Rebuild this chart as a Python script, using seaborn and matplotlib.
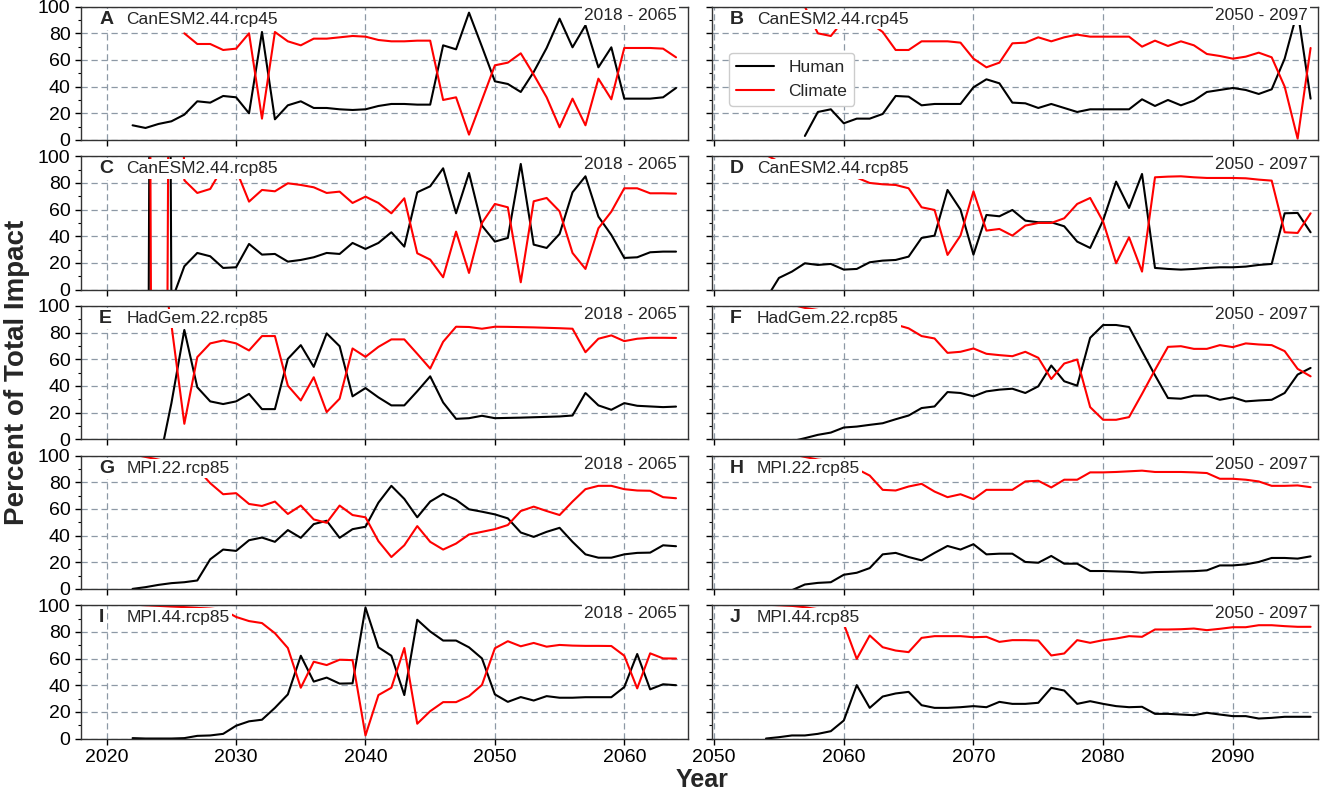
import numpy as np
import pandas as pd
import matplotlib.pyplot as plt
import seaborn as sns
from matplotlib.ticker import MultipleLocator

# Percent of total impact, one value per year; each series starts at its own year
a_human_start = 2022
a_human = [11, 9, 12, 14, 19, 29, 28, 33, 32, 20, 81, 15.5, 26, 29, 24, 24, 23, 22.5, 23, 25.5,
           27, 27, 26.5, 26.5, 71, 68, 95.5, 70, 44, 42, 36, 51, 69, 91, 69.5, 86, 54.5, 69.5, 31, 31,
           31, 32, 39]
a_climate_start = 2026
a_climate = [80, 72, 72, 67.5, 68.5, 80, 16, 81, 74, 71, 76, 76, 77, 78, 77.5, 75, 74, 74, 74.5, 74.5,
             30, 32, 4, 30, 56, 58, 65, 49, 32, 9.5, 31, 11, 46, 30.5, 69, 69, 69, 68.5, 62]

b_human_start = 2057
b_human = [3, 21, 23, 12.5, 16, 16, 19.5, 33, 32.5, 26, 27, 27, 27, 39.5, 45.5, 42.5, 28, 27.5, 24, 27,
           24, 21, 23, 23, 23, 23, 30.5, 25.5, 30, 26, 29.5, 36, 37.5, 39, 37.5, 34.5, 38, 61, 97, 31]
b_climate_start = 2057
b_climate = [100, 80, 78, 90, 92, 88, 81, 67.5, 67.5, 74, 74, 74, 73, 61, 54.5, 58, 72.5, 73, 77, 74,
             77, 79, 77.5, 77.5, 77.5, 77.5, 70, 74.5, 70.5, 74, 71, 64.5, 63, 61, 62.5, 65.5, 62, 40, 1, 69]

c_human_start = 2023
c_human = [-600, 1800, -9, 17.5, 27.5, 25, 16.25, 16.75, 34.25, 26.25, 26.75, 21, 22.25, 24.25, 27.5,
           26.75, 35, 30.5, 35, 43, 32.25, 73, 77.5, 91, 57.25, 87.5, 48, 36, 38.75, 94.25, 33.75, 31.25,
           41.75, 73, 85, 54.75, 41, 23.75, 24.25, 28, 28.5, 28.5]
c_climate_start = 2023
c_climate = [1000, -1400, 600, 82, 72.5, 75.5, 92, 90, 66, 74.75, 73.75, 79.75, 78.5, 76.75, 72.5, 73.5,
             65, 69.75, 65, 57.25, 68.5, 27.25, 22.5, 9.25, 43.5, 12.5, 50, 64.25, 61.75, 5.5, 66.25,
             68.75, 58.75, 27.5, 15.5, 46, 58.5, 76, 76, 72.25, 72.25, 72]

d_human_start = 2054
d_human = [-7, 8.75, 13.5, 19.75, 18.5, 19.25, 15, 15.5, 20.5, 21.75, 22.25, 24.75, 38.75, 40.5, 74.75,
           60, 26.25, 56, 55, 59.75, 51.75, 50.5, 50.5, 47.5, 36, 31.25, 52, 81, 61.25, 86.75, 16.25,
           15.5, 15, 15.5, 16.25, 16.75, 16.75, 17.25, 18.5, 19.25, 57.25, 57.5, 43]
d_climate_start = 2054
d_climate = [101, 96, 95, 93, 91, 89, 87, 84, 80, 79, 78.5, 76, 61.75, 59.75, 26, 40.5, 73.75, 44.25,
             45.5, 40.5, 48, 50, 50, 53.5, 64.25, 68.75, 51, 19.75, 39.25, 13.5, 84.25, 84.75, 85, 84.25,
             83.75, 83.75, 83.75, 83.5, 82.5, 81.75, 43, 42.5, 57.25]

e_human_start = 2024
e_human = [-20, 27, 82, 39, 28.4, 26.4, 28.4, 34, 22.6, 22.6, 60.3, 70.6, 54.3, 79.4, 69.8, 32.2, 38.4,
           31.4, 25.4, 25.4, 36, 47.2, 27.6, 15.3, 15.8, 17.6, 15.8, 16, 16.2, 16.5, 16.8, 17.1, 17.8,
           34.7, 25.4, 22.1, 27.1, 25.1, 24.6, 24.1, 24.5]
e_climate_start = 2024
e_climate = [150, 86, 11.6, 61.6, 71.9, 74.1, 71.9, 66.6, 77.4, 77.4, 40.2, 29.1, 46.5, 20.4, 30.4, 68.1,
             61.8, 69.3, 74.9, 74.9, 64.1, 53, 73.1, 84.4, 84.2, 82.9, 84.4, 84.3, 84.1, 83.9, 83.6, 83.3,
             82.9, 65.3, 75.4, 77.9, 73.6, 75.4, 76.1, 76.1, 76]

f_human_start = 2056
f_human = [-1.5, 0.8, 3.3, 5, 8.8, 9.5, 10.8, 12, 15, 17.8, 23.4, 24.6, 35.4, 34.7, 32.2, 35.9, 37.2,
           37.9, 34.7, 39.7, 55.3, 43.5, 40.2, 76.1, 85.7, 85.7, 84.2, 66, 48, 30.9, 30.4, 32.7, 32.7,
           29.6, 31.4, 28.4, 29.1, 29.6, 34.7, 48.5, 53.5]
f_climate_start = 2056
f_climate = [101, 98.5, 97, 95, 93, 92, 90.5, 88.5, 86, 83.2, 77.4, 75.6, 64.8, 65.6, 68.1, 64.1, 63.1,
             62.3, 65.6, 61.1, 45.2, 56.8, 59.8, 24.1, 14.6, 14.6, 16.6, 34, 52, 69.3, 69.8, 67.8, 67.8,
             70.6, 69.1, 71.9, 71.1, 70.6, 66.1, 52.8, 47.2]

g_human_start = 2022
g_human = [0, 1.3, 3, 4.3, 5, 6.3, 22.2, 29.5, 28.5, 36.5, 38.5, 35.3, 44.1, 38.3, 48.6, 51.1, 38.3,
           44.8, 46.6, 64.7, 77.3, 67.5, 53.7, 65.5, 71.3, 66.8, 59.7, 57.9, 55.9, 52.9, 42.3, 39, 42.8,
           45.8, 35.3, 25.9, 23.4, 23.4, 25.9, 27, 27.2, 32.7, 32]
g_climate_start = 2022
g_climate = [101, 99, 97, 95, 93, 90, 79.3, 71, 71.8, 63.7, 62.2, 65.5, 56.2, 62.5, 52.1, 49.6, 62.5,
             55.4, 53.7, 35.8, 23.9, 32.7, 47.1, 35.3, 29.5, 34, 40.8, 42.8, 44.8, 47.9, 58.4, 61.7, 58.4,
             55.4, 65.5, 74.8, 77.3, 77.3, 74.8, 73.8, 73.6, 68.8, 68]

h_human_start = 2056
h_human = [-1, 3.3, 4.5, 5, 10.6, 12.1, 15.6, 25.9, 27, 23.9, 21.4, 27, 32.2, 29.5, 33.5, 25.9, 26.4,
           26.4, 20.2, 19.6, 24.7, 18.9, 18.9, 13.4, 13.4, 13.1, 12.8, 12.1, 12.6, 12.8, 13.1, 13.3, 13.9,
           17.6, 17.6, 18.4, 20.2, 23.2, 23.2, 22.7, 24.4]
h_climate_start = 2056
h_climate = [101, 99, 97, 96, 93, 90, 85, 74.3, 73.8, 76.8, 78.8, 73, 68.8, 71, 67.3, 74.3, 74.3, 74.3,
             80.6, 81.1, 76.1, 81.9, 81.9, 87.4, 87.4, 87.7, 88.2, 88.7, 87.7, 87.7, 87.7, 87.4, 86.9,
             82.6, 82.6, 81.9, 80.6, 77.3, 77.3, 77.6, 76.3]

i_human_start = 2022
i_human = [0.3, 0, 0, 0, 0.3, 2, 2.3, 3.5, 9.6, 12.9, 14.1, 23, 33.1, 62.1, 42.7, 45.7, 41.2, 41.4, 98.2,
           68.4, 62.1, 32.6, 89.1, 80.3, 73.5, 73.5, 68.4, 60.1, 33.1, 27.5, 31.1, 28.5, 31.8, 30.6,
           30.6, 31, 31, 31, 38.6, 63.4, 36.9, 40.7, 40]
i_climate_start = 2022
i_climate = [100.5, 100, 99.5, 99, 98.6, 98, 97.5, 96.5, 91.2, 88.1, 86.6, 79, 67.9, 38.1, 57.6, 55.1,
             59.1, 58.8, 2.3, 32.6, 38.1, 67.9, 11.1, 20.5, 27.3, 27.3, 31.8, 40.2, 67.7, 73, 69.2, 71.7,
             68.9, 70.2, 69.7, 69.5, 69.5, 69.4, 62.1, 37.6, 63.9, 60.1, 60]

j_human_start = 2054
j_human = [0, 1, 2.3, 2.3, 3.5, 5.5, 13.5, 40, 23, 31.5, 33.8, 35, 25, 23, 23, 23.5, 24.3, 23.5, 27.5,
           26, 26, 26.8, 38, 36, 26, 28, 26, 24.3, 23.5, 23.8, 18.5, 18.5, 18, 17.5, 19.3, 18, 16.8,
           16.8, 15, 15.5, 16.3, 16.3, 16.3]
j_climate_start = 2054
j_climate = [100.5, 100, 99.5, 98.5, 97, 94, 86, 59.75, 77.3, 68.5, 66, 64.8, 75.5, 76.8, 76.8, 76.8, 76,
             76.3, 72.5, 73.8, 73.8, 73.5, 62.3, 63.8, 73.8, 71.8, 73.8, 75, 76.8, 76.3, 81.8, 81.8, 82,
             82.5, 81.3, 82.3, 83.5, 83.5, 85, 85, 84.3, 83.8, 83.8]

panels = [
    ('A', 'CanESM2.44.rcp45', a_human_start, a_human, a_climate_start, a_climate),
    ('B', 'CanESM2.44.rcp45', b_human_start, b_human, b_climate_start, b_climate),
    ('C', 'CanESM2.44.rcp85', c_human_start, c_human, c_climate_start, c_climate),
    ('D', 'CanESM2.44.rcp85', d_human_start, d_human, d_climate_start, d_climate),
    ('E', 'HadGem.22.rcp85', e_human_start, e_human, e_climate_start, e_climate),
    ('F', 'HadGem.22.rcp85', f_human_start, f_human, f_climate_start, f_climate),
    ('G', 'MPI.22.rcp85', g_human_start, g_human, g_climate_start, g_climate),
    ('H', 'MPI.22.rcp85', h_human_start, h_human, h_climate_start, h_climate),
    ('I', 'MPI.44.rcp85', i_human_start, i_human, i_climate_start, i_climate),
    ('J', 'MPI.44.rcp85', j_human_start, j_human, j_climate_start, j_climate),
]
periods = ['2018 - 2065', '2050 - 2097']
col_xlim = [(2018, 2064.9), (2049.8, 2096.6)]
col_xticks = [[2020, 2030, 2040, 2050, 2060], [2050, 2060, 2070, 2080, 2090]]


def to_frame(h_start, human, c_start, climate):
    h = pd.DataFrame({'Year': np.arange(h_start, h_start + len(human)),
                      'Percent': human, 'Series': 'Human'})
    c = pd.DataFrame({'Year': np.arange(c_start, c_start + len(climate)),
                      'Percent': climate, 'Series': 'Climate'})
    return pd.concat([h, c], ignore_index=True)


sns.set_style('ticks')
plt.rcParams['font.family'] = ['Liberation Sans', 'DejaVu Sans']

fig = plt.figure(figsize=(13.25, 7.93), dpi=100)

col_left = [0.061, 0.537]
ax_w = 0.458
row_top = 0.9916
ax_h = 0.1681
pitch = 0.1887
grid_col = '#8d99a6'
box = dict(facecolor='white', edgecolor='none', pad=1.5)

for k, (letter, model, h_start, human, c_start, climate) in enumerate(panels):
    row, col = divmod(k, 2)
    ax = fig.add_axes([col_left[col], row_top - ax_h - row * pitch, ax_w, ax_h])
    df = to_frame(h_start, human, c_start, climate)
    sns.lineplot(data=df, x='Year', y='Percent', hue='Series', hue_order=['Human', 'Climate'],
                 palette={'Human': 'black', 'Climate': 'red'}, estimator=None,
                 linewidth=1.5, legend=(letter == 'B'), ax=ax)

    ax.set_xlim(*col_xlim[col])
    ax.set_ylim(0, 100)
    ax.set_xticks(col_xticks[col])
    ax.set_yticks([0, 20, 40, 60, 80, 100])
    ax.yaxis.set_minor_locator(MultipleLocator(10))
    ax.grid(True, which='major', linestyle=(0, (5, 3)), color=grid_col, linewidth=0.9)
    ax.set_axisbelow(True)
    ax.set_xlabel('')
    ax.set_ylabel('')
    for s in ax.spines.values():
        s.set_color('#333333')
        s.set_linewidth(1.0)
    ax.tick_params(axis='both', which='major', length=4, width=1, colors='black', labelsize=14)
    ax.tick_params(axis='y', which='minor', length=2.5, width=0.8, colors='black')
    ax.tick_params(labelbottom=(row == 4), labelleft=(col == 0))

    ax.text(0.030, 0.905, letter, transform=ax.transAxes, fontsize=14, fontweight='bold',
            ha='left', va='center', bbox=box, zorder=5)
    ax.text(0.075, 0.905, model, transform=ax.transAxes, fontsize=12.5,
            ha='left', va='center', bbox=box, zorder=5)
    ax.text(0.982, 0.935, periods[col], transform=ax.transAxes, fontsize=12.5,
            ha='right', va='center', bbox=box, zorder=5)

    if letter == 'B':
        handles, labels = ax.get_legend_handles_labels()
        keep = [(h, l) for h, l in zip(handles, labels) if l in ('Human', 'Climate')]
        ax.get_legend().remove()
        leg = ax.legend([h for h, _ in keep], [l for _, l in keep], loc='upper left',
                        bbox_to_anchor=(0.015, 0.72), fontsize=12.5, frameon=True,
                        fancybox=True, edgecolor='#cccccc', framealpha=1, handlelength=2.2)
        leg.set_zorder(6)

fig.text(0.013, 0.531, 'Percent of Total Impact', rotation=90, fontsize=20, fontweight='bold',
         ha='center', va='center')
fig.text(0.530, 0.016, 'Year', fontsize=18, fontweight='bold', ha='center', va='center')

fig.savefig('out.png', dpi=100)
